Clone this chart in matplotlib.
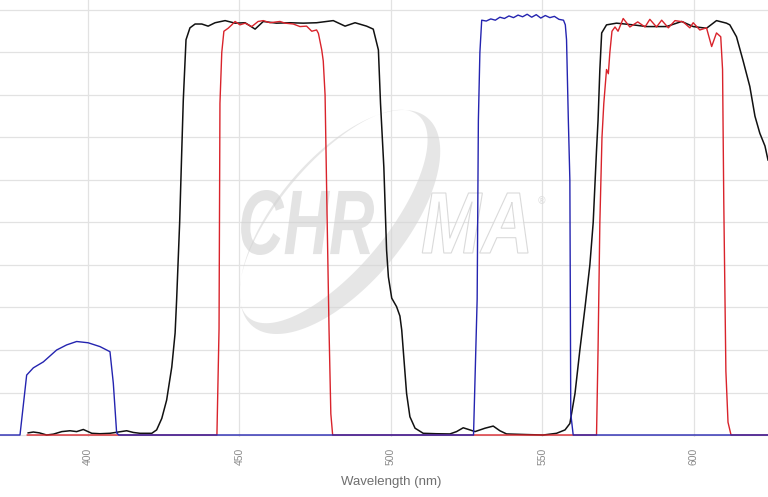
import numpy as np
import matplotlib
matplotlib.use("Agg")
import matplotlib.pyplot as plt
from matplotlib.path import Path
from matplotlib.patches import PathPatch
from matplotlib.textpath import TextPath
from matplotlib.font_manager import FontProperties

# ---- spectra (wavelength nm, transmission %) ----
black_wl = [380.3, 382, 384, 386.4, 388.6, 391.4, 394.1, 396.3, 398.5, 401.3, 404, 407.3,
            410, 412.8, 415, 417.2, 421.1, 422.7, 424.4, 426, 427.7, 428.8, 429.3, 430.3,
            431, 431.5, 432.4, 433.7, 435.4, 437.6, 439.7, 442, 445.3, 448.6, 451.9, 455.2,
            457.9, 462.3, 466.7, 471.1, 475.5, 481, 484.9, 488.2, 492, 494.2, 495.9, 496.6,
            497.7, 498.6, 499.2, 500.3, 501.9, 503, 503.6, 504.1, 505.2, 506.3, 508, 510.7,
            515, 519.5, 521.7, 523.9, 526.1, 527.8, 531.1, 533.8, 536, 538.2, 545, 550.3,
            554.7, 557.5, 559.1, 560.8, 562.4, 564.1, 565.7, 566.8, 567.9, 568.4, 569, 569.6,
            571.2, 574.5, 580, 584.4, 591, 596, 599.8, 604.2, 607.5, 610.8, 611.9, 614.1,
            616.3, 618.5, 620.2, 621.8, 623.5, 624.5]
black_t = [0.5, 0.7, 0.5, 0.0, 0.2, 0.8, 1.0, 0.8, 1.3, 0.4, 0.3, 0.4,
           0.7, 1.0, 0.6, 0.4, 0.4, 1.2, 3.9, 8.2, 16, 24, 31.8, 50,
           67, 78.8, 93, 95.8, 96.7, 96.7, 96.2, 97, 97.5, 96.9, 97, 95.5,
           97.3, 96.9, 97, 96.9, 97, 97.5, 96.2, 97, 96.2, 95.5, 90.6, 78,
           63, 43.5, 37.2, 32.2, 30.2, 28, 24.7, 20, 9.8, 4.3, 1.6, 0.4,
           0.3, 0.25, 0.8, 1.7, 1.2, 0.8, 1.6, 2.1, 1.0, 0.25, 0.1, 0.0,
           0.4, 1.2, 2.7, 9.8, 20, 30, 40, 50, 67, 74, 86, 94.6,
           96.5, 96.9, 96.5, 96.1, 96.1, 97.3, 96.1, 95.7, 97.5, 96.9, 96.5, 93.7,
           88, 82, 75, 71, 68, 64.7]

red_wl = [380, 442.6, 443.3, 443.6, 444.2, 444.9, 446.3, 447.5, 448.6, 450.2, 451.9, 454.1,
          456.2, 457.9, 460.1, 463.4, 465.1, 467.8, 470, 472.2, 473.9, 475.5, 476.1, 477.2,
          477.7, 478.3, 479, 479.6, 480.2, 480.8, 567.9, 568.4, 569, 569.7, 570.3, 571.2,
          571.8, 572.3, 573, 574, 575, 576.7, 578.9, 581.5, 583.9, 585.5, 587.7, 589.4,
          591.6, 593.8, 596.5, 598.7, 599.8, 602, 604.2, 605.9, 607.5, 608.9, 609.5, 609.9,
          610.6, 611.3, 612.3, 624.5]
red_t = [0, 0, 25, 78, 90, 95, 95.7, 96.5, 97.3, 96.5, 96.9, 96.1,
         97.3, 97.5, 97, 97.3, 96.9, 96.7, 96.1, 96.2, 95, 95.3, 94.5, 90.6,
         88, 80, 50, 25, 5, 0, 0, 20, 50, 70, 78, 86,
         85, 90, 95, 96, 95, 98, 96, 97.2, 96, 97.8, 96, 97.6,
         95.8, 97.5, 97.2, 95.8, 97, 95.3, 95.8, 91.4, 94.6, 93.7, 86, 55,
         15, 3, 0, 0]

blue_wl = [370, 377.6, 379.8, 382, 385.3, 389.7, 393, 396.3, 400.1, 404, 407.3, 408.4,
           409.5, 410.2, 527.3, 528.5, 528.9, 529.4, 530, 531.5, 533, 534.5, 536, 537.5,
           539, 540.5, 542, 543.5, 545, 546.5, 548, 549.5, 551, 552.5, 554, 555.5,
           557, 557.6, 558, 558.6, 559.1, 559.4, 560.2, 624.5]
blue_t = [0, 0, 14.1, 15.8, 17.2, 20, 21.2, 22, 21.7, 20.8, 19.6, 12.2,
          0.5, 0, 0, 32, 74, 90, 97.6, 97.4, 97.9, 97.6, 98.3, 98,
          98.6, 98.2, 98.8, 98.4, 99, 98.3, 98.9, 98.1, 98.7, 98.2, 98.5, 97.8,
          97.6, 96.5, 93, 74, 60, 5, 0, 0]

x_ticks = [400, 450, 500, 550, 600]

W, H = 768, 497
fig = plt.figure(figsize=(W / 100, H / 100), dpi=100)
ax = fig.add_axes([0, 60 / H, 1, 437 / H])
ax.set_xlim(371, 624.5)
ax.set_ylim(-0.47, 102.35)

ax.set_xticks(x_ticks)
ax.set_xticklabels([str(t) for t in x_ticks], rotation=90, fontsize=7.5,
                   color="#8a8a8a", family=["Liberation Sans", "DejaVu Sans"])
ax.set_yticks(range(0, 101, 10))
ax.set_yticklabels([])
ax.tick_params(length=0)
ax.tick_params(axis="x", pad=7.5)
ax.grid(True, color="#e2e2e2", lw=0.9)
ax.set_axisbelow(True)
for s in ax.spines.values():
    s.set_visible(False)

ax.set_xlabel("Wavelength (nm)", fontsize=9.5, color="#6f6f6f",
              family=["Liberation Sans Narrow", "Liberation Sans", "DejaVu Sans"])
ax.xaxis.set_label_coords(391 / W, -0.09)


# ---- watermark (placed in pixel units of the figure) ----
def px(x, y):
    return x / W, 1 - y / H


def text_patch(s, box, fc, ec, lw=0.8):
    fp = FontProperties(family="Liberation Sans", weight="bold", style="italic")
    tp = TextPath((0, 0), s, size=1, prop=fp)
    v = tp.vertices.copy()
    x0, y0 = v.min(axis=0)
    x1, y1 = v.max(axis=0)
    bx0, by0, bx1, by1 = box  # pixel box, y down
    fx = bx0 + (v[:, 0] - x0) / (x1 - x0) * (bx1 - bx0)
    fy = by1 - (v[:, 1] - y0) / (y1 - y0) * (by1 - by0)
    verts = np.column_stack([fx / W, 1 - fy / H])
    p = PathPatch(Path(verts, tp.codes), fc=fc, ec=ec, lw=lw,
                  transform=fig.transFigure, zorder=1.5)
    ax.add_patch(p)


def ellipse_pts(cx, cy, a, b, ang, n=200, rev=False):
    t = np.linspace(0, 2 * np.pi, n)
    if rev:
        t = t[::-1]
    ca, sa = np.cos(np.radians(ang)), np.sin(np.radians(ang))
    ex = a * np.cos(t)
    ey = b * np.sin(t)
    xs = cx + ex * ca - ey * sa
    ys = cy + ex * sa + ey * ca  # y up
    return np.column_stack([xs, ys])


cx, cy = 340, H - 222
outer = ellipse_pts(cx, cy, 136, 64, 50)
inner = ellipse_pts(cx - 6.5, cy + 5.5, 132, 53, 50, rev=True)
verts = np.vstack([outer, inner])
verts = verts / np.array([W, H])
codes = ([Path.MOVETO] + [Path.LINETO] * (len(outer) - 2) + [Path.CLOSEPOLY]) * 2
ax.add_patch(PathPatch(Path(verts, codes), fc="#d6d6d6", ec="none", alpha=0.6,
                       transform=fig.transFigure, zorder=1.5))

text_patch("CHR", (238, 190, 374, 255), fc=(0.82, 0.82, 0.82, 0.6), ec="none")
text_patch("MA", (421, 193, 528, 253), fc=(1, 1, 1, 0.5), ec=(0.84, 0.84, 0.84, 0.9), lw=0.8)
ax.text(*px(541, 201), "\u00ae", transform=fig.transFigure, fontsize=7,
        color="#dddddd", ha="center", va="center", zorder=1.5)

# ---- curves ----
ax.plot(black_wl, black_t, color="#111111", lw=1.1, zorder=3, solid_joinstyle="round")
ax.plot(red_wl, red_t, color="#d9232b", lw=1.0, zorder=4, solid_joinstyle="round")
ax.plot(blue_wl, blue_t, color="#2424b0", lw=1.0, zorder=5, solid_joinstyle="round")

fig.savefig("out.png", dpi=100)
